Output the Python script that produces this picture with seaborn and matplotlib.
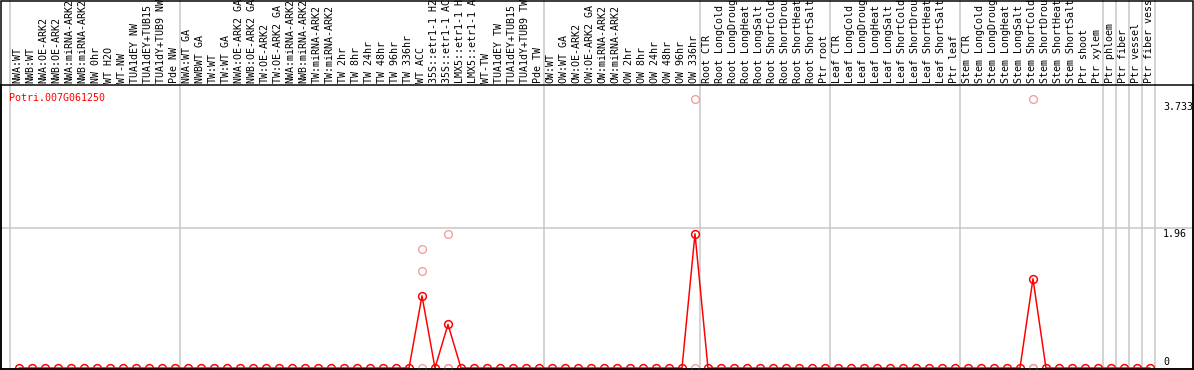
import numpy as np
import pandas as pd
import matplotlib
matplotlib.use("Agg")
import matplotlib.pyplot as plt
from matplotlib.transforms import blended_transform_factory
import seaborn as sns

# ── Data ──────────────────────────────────────────────────
GENE = "Potri.007G061250"

LABELS = [
    "NWA:WT", "NWB:WT", "NWA:OE-ARK2", "NWB:OE-ARK2", "NWA:miRNA-ARK2",
    "NWB:miRNA-ARK2", "NW 0hr", "WT H2O", "WT-NW", "TUA1dEY NW",
    "TUA1dEY+TUB15 NW", "TUA1dY+TUB9 NW", "Pde NW",
    "NWA:WT GA", "NWBWT GA", "TW:WT", "TW:WT GA", "NWA:OE-ARK2 GA",
    "NWB:OE-ARK2 GA", "TW:OE-ARK2", "TW:OE-ARK2 GA", "NWA:miRNA-ARK2",
    "NWB:miRNA-ARK2", "TW:miRNA-ARK2", "TW:miRNA-ARK2", "TW 2hr", "TW 8hr",
    "TW 24hr", "TW 48hr", "TW 96hr", "TW 336hr", "WT ACC",
    "35S::etr1-1 H2O", "35S::etr1-1 ACC", "LMX5::etr1-1 H2O",
    "LMX5::etr1-1 ACC", "WT-TW", "TUA1dEY TW", "TUA1dEY+TUB15 TW",
    "TUA1dY+TUB9 TW", "Pde TW",
    "OW:WT", "OW:WT GA", "OW:OE-ARK2", "OW:OE-ARK2 GA", "OW:miRNA-ARK2",
    "OW:miRNA-ARK2", "OW 2hr", "OW 8hr", "OW 24hr", "OW 48hr", "OW 96hr",
    "OW 336hr",
    "Root CTR", "Root LongCold", "Root LongDrought", "Root LongHeat",
    "Root LongSalt", "Root ShortCold", "Root ShortDrought", "Root ShortHeat",
    "Root ShortSalt", "Ptr root",
    "Leaf CTR", "Leaf LongCold", "Leaf LongDrought", "Leaf LongHeat",
    "Leaf LongSalt", "Leaf ShortCold", "Leaf ShortDrought", "Leaf ShortHeat",
    "Leaf ShortSalt", "Ptr leaf",
    "Stem CTR", "Stem LongCold", "Stem LongDrought", "Stem LongHeat",
    "Stem LongSalt", "Stem ShortCold", "Stem ShortDrought", "Stem ShortHeat",
    "Stem ShortSalt", "Ptr shoot",
    "Ptr xylem", "Ptr phloem", "Ptr fiber", "Ptr vessel", "Ptr fiber vessel",
]

MEANS = [
    0, 0, 0, 0, 0, 0, 0, 0, 0, 0, 0, 0, 0,
    0, 0, 0, 0, 0, 0, 0, 0, 0, 0, 0, 0, 0, 0, 0, 0, 0, 0,
    1.01, 0, 0.61, 0, 0, 0, 0, 0, 0, 0,
    0, 0, 0, 0, 0, 0, 0, 0, 0, 0, 0, 1.88,
    0, 0, 0, 0, 0, 0, 0, 0, 0, 0,
    0, 0, 0, 0, 0, 0, 0, 0, 0, 0,
    0, 0, 0, 0, 0, 1.25, 0, 0, 0, 0,
    0, 0, 0, 0, 0,
]

# individual replicates (light markers)
REP_SAMPLE = [31, 31, 31, 33, 33, 33, 52, 52, 78, 78, 78]
REP_VALUE = [1.66, 1.36, 0.0, 1.88, 0.0, 0.0, 3.77, 0.0, 3.77, 0.0, 0.0]

GROUP_ENDS = [12, 40, 52, 62, 72, 83, 84, 85, 86, 87]
Y_MARKS = [3.733, 1.96, 0]
Y_MARK_LABELS = ["3.733", "1.96", "0"]

# ── Style ─────────────────────────────────────────────────
sns.set_style("white")
plt.rcParams["font.family"] = ["DejaVu Sans Mono"]
plt.rcParams["font.size"] = 7.2

W, H = 1194, 370
PX = 72 / 100  # one pixel in points
GRID = "#c6c6c6"
RED = "#ff0000"
PINK = "#f09c9c"

fig = plt.figure(figsize=(W / 100, H / 100), dpi=100)
ax = fig.add_axes([1 / W, 1 / H, 1192 / W, 284 / H])
ax.set_xlim(-1.385, 90.31)
ax.set_ylim(-0.014, 3.964)
ax.set_xticks([])
ax.set_yticks([])
for sp in ax.spines.values():
    sp.set_color("black")
    sp.set_linewidth(1.5 * PX)

# group separators, running through the header too
for x in [-0.69] + [g + 0.4 for g in GROUP_ENDS]:
    ax.axvline(x, ymin=0, ymax=1.31, color=GRID, lw=1.5 * PX, clip_on=False, zorder=1)
ax.axhline(1.96, color=GRID, lw=1.5 * PX, zorder=1)

idx = np.arange(len(MEANS))
df_mean = pd.DataFrame({"sample": idx, "value": MEANS})
df_rep = pd.DataFrame({"sample": REP_SAMPLE, "value": REP_VALUE})

sns.lineplot(data=df_rep, x="sample", y="value", ax=ax, estimator=None, sort=False,
             linestyle="", marker="o", markersize=5.6, markerfacecolor="none",
             markeredgecolor=PINK, markeredgewidth=1.3 * PX, zorder=3)
sns.lineplot(data=df_mean, x="sample", y="value", ax=ax, estimator=None, sort=False,
             color=RED, lw=1.5 * PX, marker="o", markersize=5.6,
             markerfacecolor="none", markeredgecolor=RED,
             markeredgewidth=1.5 * PX, zorder=4)
ax.set_xlabel("")
ax.set_ylabel("")

# value marks on the right
for v, lab in zip(Y_MARKS, Y_MARK_LABELS):
    if v == 0:
        ax.text(88.0, 0.084, lab, ha="left", va="center", color="black")
    else:
        ax.text(88.0, v - 0.01, lab, ha="left", va="top", color="black")

# sample labels in the header
trans = blended_transform_factory(ax.transData, fig.transFigure)
for i, lab in enumerate(LABELS):
    ax.text(i - 0.1, (H - 83) / H, lab, rotation=90, ha="center", va="bottom",
            transform=trans, clip_on=False, color="black")

fig.text(9 / W, (H - 98) / H, GENE, color=RED, ha="left", va="center")

# outer frame
fig.add_artist(plt.Rectangle((1 / W, 1 / H), 1192 / W, (H - 1.5) / H,
                             transform=fig.transFigure, fill=False,
                             ec="black", lw=1.5 * PX))

fig.savefig("out.png", dpi=100)
